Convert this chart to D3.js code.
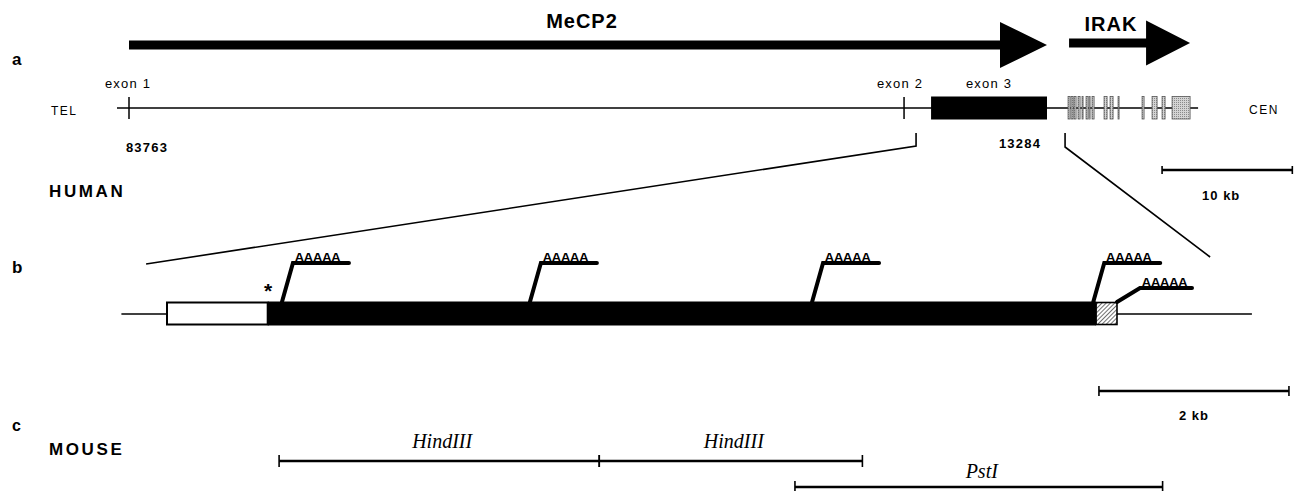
<!DOCTYPE html>
<html>
<head>
<meta charset="utf-8">
<script src="https://cdn.jsdelivr.net/npm/d3@7"></script>
<style>
  body { margin: 0; background: #fff; }
  svg { display: block; }
</style>
</head>
<body>
<script>
// ---------- panel a: human MeCP2 / IRAK locus (cosmid coordinates, bp) ----------
const cosmidSpan  = [83763, 13284];          // exon 1 .. end of exon 3
const endLabels   = ["83763", "13284"];
const mapExtent   = [84684, 1685];           // genomic line, TEL -> CEN
const geneNames   = ["MeCP2", "IRAK"];
const geneSpans   = [[83763, 13284], [11590, 2300]];
const exonNames   = ["exon 1", "exon 2", "exon 3"];
const mecp2Exons  = [[83763, 83763], [24259, 24259], [22185, 13284]];
const irakExons   = [
  [11667, 11513], [11436, 11283], [11206, 11052], [10899, 10745],
  [10592, 10515], [10285, 10131], [10054, 9977], [9824, 9670],
  [8902, 8672], [8442, 8211], [7828, 7751],
  [5985, 5832], [5217, 4833], [4449, 4219], [3681, 2299]
];
const zoomWindow  = [23337, 11897];          // region expanded in panel b
const topScaleBar = [4449, -5551];           // 10 kb

// ---------- panel b: exon 3 transcript (kb from start of exon 3) ----------
const flankKb      = [-0.48, 11.42];
const codingKb     = [0, 1.06];
const utrKb        = [1.06, 9.78];
const hatchKb      = [9.78, 10.0];
const polyASites   = [1.21, 3.82, 6.79, 9.75, 10.0];
const polyARows    = [0, 0, 0, 0, 1];
const zoomWindowKb = [-0.22, 10.98];
const midScaleBar  = [9.81, 11.81];          // 2 kb

// ---------- panel c: mouse genomic fragments (kb, same frame as b) ----------
const fragEnzymes = ["HindIII", "HindIII", "PstI"];
const fragStarts  = [1.18, 4.55, 6.61];
const fragEnds    = [4.55, 7.32, 10.48];
const fragRows    = [0, 0, 1];

// ---------- drawing ----------
const W = 1295, H = 491;
const sans = "'Liberation Sans', Arial, Helvetica, sans-serif";
const serif = "'Liberation Serif', 'Times New Roman', serif";

const svg = d3.select("body").append("svg")
  .attr("width", W).attr("height", H)
  .attr("viewBox", `0 0 ${W} ${H}`);

const defs = svg.append("defs");
const stip = defs.append("pattern").attr("id", "stipple")
  .attr("width", 2).attr("height", 2).attr("patternUnits", "userSpaceOnUse");
stip.append("rect").attr("width", 2).attr("height", 2).attr("fill", "#d4d4d4");
stip.append("rect").attr("width", 1).attr("height", 1).attr("fill", "#8a8a8a");

const hatch = defs.append("pattern").attr("id", "hatch")
  .attr("width", 3).attr("height", 3).attr("patternUnits", "userSpaceOnUse")
  .attr("patternTransform", "rotate(45)");
hatch.append("rect").attr("width", 3).attr("height", 3).attr("fill", "#fff");
hatch.append("line").attr("x1", 0).attr("y1", 0).attr("x2", 0).attr("y2", 3)
  .attr("stroke", "#333").attr("stroke-width", 1.4);

const xTop = d3.scaleLinear().domain(cosmidSpan).range([129, 1047]);
const xKb  = d3.scaleLinear().domain([0, 10]).range([167, 1117]);

function label(g, txt, x, y, opts = {}) {
  return g.append("text")
    .attr("x", x).attr("y", y)
    .attr("text-anchor", opts.anchor || "start")
    .attr("font-family", opts.family || sans)
    .attr("font-size", opts.size || 13)
    .attr("font-weight", opts.weight || "normal")
    .attr("font-style", opts.style || "normal")
    .style("letter-spacing", (opts.spacing || 0) + "px")
    .attr("fill", "#000")
    .text(txt);
}

function scaleBar(g, x0, x1, y, tick) {
  g.append("line").attr("x1", x0).attr("x2", x1).attr("y1", y).attr("y2", y)
    .attr("stroke", "#000").attr("stroke-width", 2.6);
  [x0, x1].forEach(x => g.append("line")
    .attr("x1", x).attr("x2", x).attr("y1", y - tick).attr("y2", y + tick)
    .attr("stroke", "#000").attr("stroke-width", 1.6));
}

// ----- panel a -----
const a = svg.append("g");
label(a, "a", 12, 65, { size: 17, weight: "bold" });

// gene arrows
const arrowY = [45, 43];
const headLen = [47, 44], headHalf = [23, 22.5], shaftHalf = [4.6, 4.6];
geneSpans.forEach((s, i) => {
  const x0 = xTop(s[0]), x1 = xTop(s[1]), y = arrowY[i];
  const xb = x1 - headLen[i];
  const pts = [[x0, y - shaftHalf[i]], [xb, y - shaftHalf[i]], [xb, y - headHalf[i]], [x1, y],
               [xb, y + headHalf[i]], [xb, y + shaftHalf[i]], [x0, y + shaftHalf[i]]];
  a.append("path").attr("d", d3.line()(pts) + "Z").attr("fill", "#000");
});
label(a, geneNames[0], 582, 28, { size: 20, weight: "bold", anchor: "middle", spacing: 1 });
label(a, geneNames[1], 1111, 31, { size: 20, weight: "bold", anchor: "middle", spacing: 1 });

// genomic line
const mapY = 108;
a.append("line").attr("x1", xTop(mapExtent[0])).attr("x2", xTop(mapExtent[1]))
  .attr("y1", mapY).attr("y2", mapY).attr("stroke", "#000").attr("stroke-width", 1.5);
label(a, "TEL", 51, 115, { size: 12, spacing: 1.5 });
label(a, "CEN", 1249, 114, { size: 12, spacing: 1.5 });

// MeCP2 exons
mecp2Exons.forEach((e, i) => {
  const x0 = xTop(e[0]), x1 = xTop(e[1]);
  if (x1 - x0 < 2) {
    a.append("line").attr("x1", x0).attr("x2", x0).attr("y1", 97).attr("y2", 119)
      .attr("stroke", "#000").attr("stroke-width", 1.5);
  } else {
    a.append("rect").attr("x", x0).attr("y", 96.5).attr("width", x1 - x0).attr("height", 23)
      .attr("fill", "#000");
  }
});
const exonLabelX = [xTop(mecp2Exons[0][0]) - 1, xTop(mecp2Exons[1][0]) - 4,
                    (xTop(mecp2Exons[2][0]) + xTop(mecp2Exons[2][1])) / 2];
exonNames.forEach((n, i) => label(a, n, exonLabelX[i], 88, { size: 13, anchor: "middle", spacing: 1.2 }));

// IRAK exons
irakExons.forEach(e => {
  const x0 = xTop(e[0]), x1 = xTop(e[1]);
  a.append("rect").attr("x", x0).attr("y", 96.5).attr("width", Math.max(x1 - x0, 0.8)).attr("height", 22.5)
    .attr("fill", "url(#stipple)").attr("stroke", "#555").attr("stroke-width", 0.8);
});

// coordinates
label(a, endLabels[0], xTop(cosmidSpan[0]) + 18, 152, { size: 13, weight: "bold", anchor: "middle", spacing: 1.2 });
label(a, endLabels[1], xTop(cosmidSpan[1]) - 27, 148, { size: 13, weight: "bold", anchor: "middle", spacing: 1.2 });

// 10 kb bar
scaleBar(a, xTop(topScaleBar[0]), xTop(topScaleBar[1]), 170, 4);
label(a, "10 kb", (xTop(topScaleBar[0]) + xTop(topScaleBar[1])) / 2 - 6, 200, { size: 13, weight: "bold", anchor: "middle", spacing: 1 });

label(a, "HUMAN", 49, 197, { size: 17, weight: "bold", spacing: 2.6 });

// expansion lines from panel a into panel b
const zl = xTop(zoomWindow[0]), zr = xTop(zoomWindow[1]);
a.append("path").attr("d", d3.line()([[zl, 133], [zl, 146], [xKb(zoomWindowKb[0]), 264]]))
  .attr("fill", "none").attr("stroke", "#000").attr("stroke-width", 1.6);
a.append("path").attr("d", d3.line()([[zr, 133], [zr, 147], [xKb(zoomWindowKb[1]), 257]]))
  .attr("fill", "none").attr("stroke", "#000").attr("stroke-width", 1.6);

// ----- panel b -----
const b = svg.append("g");
label(b, "b", 12, 273, { size: 17, weight: "bold" });

const boxTop = 301.5, boxH = 24, lineY = 314;
b.append("line").attr("x1", xKb(flankKb[0])).attr("x2", xKb(flankKb[1]))
  .attr("y1", lineY).attr("y2", lineY).attr("stroke", "#000").attr("stroke-width", 1.5);
b.append("rect").attr("x", xKb(utrKb[0])).attr("y", boxTop)
  .attr("width", xKb(utrKb[1]) - xKb(utrKb[0])).attr("height", boxH).attr("fill", "#000");
b.append("rect").attr("x", xKb(codingKb[0])).attr("y", boxTop + 1)
  .attr("width", xKb(codingKb[1]) - xKb(codingKb[0])).attr("height", boxH - 2)
  .attr("fill", "#fff").attr("stroke", "#000").attr("stroke-width", 2);
b.append("rect").attr("x", xKb(hatchKb[0])).attr("y", boxTop + 1)
  .attr("width", xKb(hatchKb[1]) - xKb(hatchKb[0])).attr("height", boxH - 2)
  .attr("fill", "url(#hatch)").attr("stroke", "#000").attr("stroke-width", 1.6);
label(b, "*", xKb(codingKb[1]) + 0.5, 298, { size: 21, weight: "bold", anchor: "middle" });

// polyadenylation sites
const rowTopY = [263, 288], rowDx = [11, 23], tailLen = [56, 52];
polyASites.forEach((k, i) => {
  const r = polyARows[i];
  const xb = xKb(k), xt = xb + rowDx[r], yt = rowTopY[r];
  b.append("path").attr("d", d3.line()([[xb, boxTop + 0.5], [xt, yt], [xt + tailLen[r], yt]]))
    .attr("fill", "none").attr("stroke", "#000").attr("stroke-width", 4)
    .attr("stroke-linejoin", "miter").attr("stroke-linecap", "round");
  label(b, "AAAAA", xt + 1.5, yt - 1.2, { size: 13.5, weight: "bold", spacing: -0.6 });
});

// 2 kb bar
scaleBar(b, xKb(midScaleBar[0]), xKb(midScaleBar[1]), 391, 5);
label(b, "2 kb", (xKb(midScaleBar[0]) + xKb(midScaleBar[1])) / 2, 420, { size: 13, weight: "bold", anchor: "middle", spacing: 1 });

// ----- panel c -----
const c = svg.append("g");
label(c, "c", 12, 431, { size: 16, weight: "bold" });
label(c, "MOUSE", 49, 455, { size: 17, weight: "bold", spacing: 2.6 });

const fragY = [461, 487], fragLabelY = [448, 478];
fragEnzymes.forEach((name, i) => {
  const x0 = xKb(fragStarts[i]), x1 = xKb(fragEnds[i]), y = fragY[fragRows[i]];
  c.append("line").attr("x1", x0).attr("x2", x1).attr("y1", y).attr("y2", y)
    .attr("stroke", "#000").attr("stroke-width", 2.4);
  [x0, x1].forEach(x => c.append("line").attr("x1", x).attr("x2", x)
    .attr("y1", y - 6).attr("y2", y + 6).attr("stroke", "#000").attr("stroke-width", 1.6));
  label(c, name, (x0 + x1) / 2 + 3, fragLabelY[fragRows[i]],
    { size: 20, style: "italic", family: serif, anchor: "middle" });
});
</script>
</body>
</html>
